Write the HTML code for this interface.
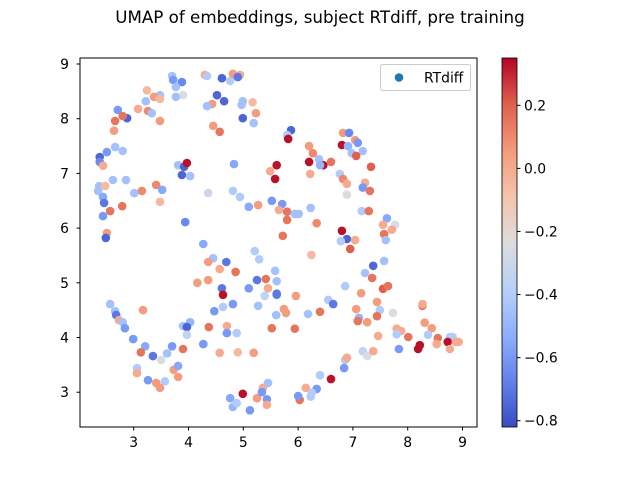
<!DOCTYPE html>
<html><head><meta charset="utf-8"><style>
body{margin:0;background:#fff;}
svg{display:block;font-family:"DejaVu Sans","Liberation Sans",sans-serif;}
</style></head><body>
<svg id="chart" width="640" height="480" viewBox="0 0 640 480" xmlns="http://www.w3.org/2000/svg">
<defs><linearGradient id="cbgrad" x1="0" y1="1" x2="0" y2="0"></linearGradient></defs>
<text x="320" y="23" text-anchor="middle" font-size="16.7">UMAP of embeddings, subject RTdiff, pre training</text>
<g id="points"></g>
<rect x="80" y="58" width="397" height="369" fill="none" stroke="#000" stroke-width="1"/>
<g id="xticks"></g>
<g id="yticks"></g>
<g>
<rect x="380.5" y="64.5" width="90" height="26" rx="2" fill="#fff" stroke="#ccc"/>
<circle cx="399" cy="77.5" r="4.3" fill="#1f77b4"/>
<text x="424" y="82.5" font-size="13.9">RTdiff</text>
</g>
<rect id="cbar" x="502" y="58" width="15" height="369" fill="url(#cbgrad)" stroke="#000" stroke-width="0.8"/>
<g id="cticks"></g>
</svg>
<script>
const xs=[3.70,3.72,3.88,3.77,3.90,3.77,4.30,4.34,4.61,4.76,4.81,4.94,4.90,4.52,4.43,4.34,4.65,4.99,4.97,5.17,5.23,4.99,5.19,3.24,3.48,3.37,3.48,3.22,3.08,3.26,3.33,3.48,2.71,2.88,2.80,2.66,2.64,4.45,4.57,2.66,2.80,2.51,2.38,2.38,2.44,3.81,3.92,3.97,3.88,4.03,4.83,2.62,2.86,2.37,2.48,2.35,2.44,2.46,2.57,2.44,2.79,3.01,3.15,3.41,3.52,3.48,4.36,4.81,4.94,5.10,5.27,5.52,5.61,5.58,5.49,3.94,2.51,2.49,
5.87,5.80,5.82,6.82,6.93,7.04,7.09,6.80,6.91,6.98,7.18,7.06,6.20,6.27,6.38,6.20,6.46,6.40,6.60,6.22,7.33,6.76,6.82,6.89,6.89,7.22,7.18,7.31,5.71,5.65,5.80,5.94,6.01,5.80,6.23,6.34,7.16,7.29,7.62,7.77,7.55,7.71,7.57,7.60,5.72,6.80,6.89,6.78,7.04,
4.27,4.45,4.36,4.69,4.57,4.86,4.16,4.36,4.61,4.63,4.81,4.63,4.47,5.21,5.29,5.58,5.25,5.41,5.10,5.45,5.39,5.61,5.27,5.60,5.52,2.57,2.66,2.68,2.73,2.80,2.84,3.17,2.99,3.21,3.13,3.35,3.50,3.61,3.70,3.90,4.03,3.97,3.97,3.90,4.27,4.37,4.70,4.70,4.88,4.57,4.90,5.19,3.06,3.06,3.26,3.41,3.48,3.57,3.73,3.81,3.81,4.76,4.81,4.88,4.99,5.12,5.25,5.36,5.45,5.43,5.43,5.34,
6.95,6.24,7.57,7.37,7.22,7.35,7.55,7.64,5.61,5.61,5.96,6.86,7.15,6.55,6.64,7.44,7.06,7.49,7.73,5.74,5.78,6.18,6.40,7.11,7.09,7.26,7.44,5.94,7.46,7.18,7.26,7.37,6.86,6.89,6.84,6.60,6.40,6.34,6.14,6.25,6.23,6.03,6.00,7.80,7.88,7.80,8.01,7.84,8.27,8.27,8.31,8.44,8.37,8.55,8.53,8.22,8.19,8.77,8.82,8.73,8.88,8.93,8.77];
const ys=[8.78,8.71,8.67,8.58,8.43,8.40,8.80,8.78,8.74,8.69,8.82,8.80,8.76,8.43,8.27,8.23,8.32,8.32,8.25,8.30,8.10,8.01,7.92,8.52,8.43,8.40,8.36,8.32,8.18,8.14,8.10,7.96,8.16,8.01,8.05,7.96,7.78,7.87,7.76,7.48,7.41,7.39,7.30,7.21,7.14,7.15,7.12,7.19,6.97,6.95,7.17,6.88,6.88,6.77,6.77,6.68,6.57,6.46,6.31,6.22,6.40,6.64,6.68,6.79,6.70,6.48,6.64,6.68,6.57,6.39,6.42,6.50,7.15,6.90,7.04,6.11,5.91,5.82,
7.79,7.70,7.63,7.74,7.74,7.61,7.56,7.52,7.50,7.37,7.41,7.32,7.50,7.37,7.26,7.21,7.15,7.15,7.21,6.99,7.12,6.99,6.90,6.81,6.61,6.83,6.74,6.68,6.44,6.33,6.30,6.26,6.26,6.15,6.37,6.09,6.31,6.31,6.18,6.06,6.06,5.97,5.89,5.78,5.86,5.95,5.80,5.76,5.78,
5.71,5.45,5.38,5.38,5.25,5.20,5.00,5.05,4.90,4.78,4.61,4.56,4.48,5.58,5.43,5.22,5.05,5.07,4.90,4.90,4.76,4.78,4.58,4.41,4.17,4.61,4.48,4.41,4.32,4.28,4.17,4.50,3.97,3.84,3.73,3.66,3.59,3.71,3.84,4.21,4.28,4.19,4.05,3.79,3.88,4.19,4.21,4.08,4.08,3.72,3.73,3.72,3.44,3.35,3.22,3.17,3.08,3.20,3.41,3.28,3.48,2.89,2.73,2.80,2.97,2.67,2.89,3.08,3.17,2.87,2.77,3.00,
5.62,5.51,5.40,5.31,5.18,5.09,4.89,4.94,5.03,4.80,4.76,4.94,4.81,4.69,4.61,4.65,4.52,4.50,4.45,4.52,4.45,4.43,4.47,4.36,4.30,4.28,4.39,4.16,4.03,3.75,3.66,3.75,3.59,3.63,3.44,3.24,3.31,3.06,3.08,2.99,2.92,2.86,2.93,4.16,4.12,4.06,4.01,3.79,4.58,4.61,4.27,4.17,4.05,3.99,3.88,3.86,3.79,4.01,4.01,3.92,3.92,3.92,3.79];
const vals=[-0.45,-0.6,-0.65,-0.45,-0.25,-0.45,0.0,-0.4,-0.75,-0.4,0.05,0.0,-0.7,-0.75,0.05,-0.45,-0.75,-0.45,-0.45,-0.05,0.05,-0.75,-0.45,-0.05,-0.45,0.05,-0.05,-0.45,0.0,0.1,-0.45,0.05,-0.6,-0.75,0.15,0.15,0.05,0.05,0.15,-0.45,-0.45,-0.6,-0.75,-0.65,0.0,-0.45,-0.75,0.33,-0.75,-0.45,-0.55,-0.45,-0.45,-0.45,-0.05,-0.45,-0.55,-0.7,0.15,-0.6,0.15,-0.45,0.1,0.1,-0.55,-0.05,-0.3,-0.4,-0.4,-0.55,0.05,-0.6,0.33,0.33,0.0,-0.65,0.05,-0.75,
-0.75,-0.4,0.33,0.05,-0.65,0.05,-0.6,0.33,-0.5,-0.45,-0.45,0.2,0.05,0.1,-0.45,0.33,0.33,-0.5,0.15,0.0,0.2,-0.4,0.1,0.0,-0.25,0.0,-0.6,0.15,-0.6,0.0,0.15,-0.45,-0.45,0.15,-0.45,0.1,-0.4,0.15,-0.55,-0.25,0.0,0.0,0.15,-0.45,0.15,0.33,-0.75,-0.4,0.0,
-0.55,-0.45,0.05,-0.7,0.0,0.15,0.05,0.05,-0.7,0.33,-0.6,-0.4,-0.6,-0.4,-0.4,-0.45,-0.7,0.15,-0.6,0.0,-0.35,-0.65,-0.45,-0.45,0.15,-0.45,-0.45,-0.7,0.0,-0.45,-0.6,0.05,-0.6,-0.55,0.15,-0.7,-0.25,-0.45,-0.6,-0.45,-0.5,-0.75,-0.35,0.15,-0.6,0.15,0.0,-0.6,-0.4,0.0,-0.05,0.05,-0.4,0.0,-0.6,0.05,0.05,-0.4,0.05,0.05,-0.55,-0.55,-0.5,-0.4,0.33,-0.6,0.05,0.0,-0.45,-0.6,0.0,-0.6,
0.2,-0.05,-0.45,-0.75,-0.45,0.15,0.2,0.15,-0.45,-0.7,0.05,-0.4,0.05,-0.4,-0.7,0.05,0.05,-0.4,-0.25,0.05,0.05,-0.45,0.15,-0.5,0.15,0.05,0.15,0.15,0.0,-0.35,-0.25,0.0,-0.4,0.0,-0.6,0.33,-0.4,-0.6,0.0,-0.4,-0.4,0.15,-0.6,0.0,0.0,-0.4,0.15,-0.6,0.15,0.0,0.05,0.05,-0.4,0.15,0.0,0.33,0.33,-0.4,-0.4,0.33,0.0,0.0,0.0];
const xTicks=[3,4,5,6,7,8,9];
const yTicks=[3,4,5,6,7,8,9];
const cTicks=[0.2,0.0,-0.2,-0.4,-0.6,-0.8];
const VMIN=-0.82,VMAX=0.35;
const NS="http://www.w3.org/2000/svg";
function sx(v){return 80+(v-2.02)*54.8;}
function sy(v){return 64+(9-v)*54.7;}
function sc(v){return 427-(v-VMIN)/(VMAX-VMIN)*369;}
const stops=[[58,76,192],[98,130,234],[141,176,254],[184,208,249],[221,221,221],[245,196,173],[244,154,123],[222,96,76],[180,4,38]];
function cmap(v){let t=Math.max(0,Math.min(1,(v-VMIN)/(VMAX-VMIN)))*8;let i=Math.min(7,Math.floor(t)),f=t-i;const a=stops[i],b=stops[i+1];return 'rgb('+a.map((c,k)=>Math.round(c+(b[k]-c)*f)).join(',')+')';}
function mk(tag,attrs,parent){const e=document.createElementNS(NS,tag);for(const k in attrs)e.setAttribute(k,attrs[k]);parent.appendChild(e);return e;}
const gp=document.getElementById('points');
for(let i=0;i<xs.length;i++){
 const c=mk('circle',{cx:sx(xs[i]).toFixed(1),cy:sy(ys[i]).toFixed(1),r:4.3,fill:cmap(vals[i])},gp);
 
 
}
const gx=document.getElementById('xticks');
xTicks.forEach(t=>{const x=sx(t);
 const l=mk('line',{x1:x,x2:x,y1:427,y2:430.5,stroke:'#000'},gx);
 
 
 const tx=mk('text',{x:x,y:447,'text-anchor':'middle','font-size':'13.9'},gx);tx.textContent=t;
 
 
});
const gy=document.getElementById('yticks');
yTicks.forEach(t=>{const y=sy(t);
 const l=mk('line',{x1:76.5,x2:80,y1:y,y2:y,stroke:'#000'},gy);
 
 
 const tx=mk('text',{x:69,y:y+5,'text-anchor':'end','font-size':'13.9'},gy);tx.textContent=t;
 
 
});
const grad=document.getElementById('cbgrad');
stops.forEach((s,i)=>{mk('stop',{offset:(i/8*100)+'%','stop-color':'rgb('+s.join(',')+')'},grad);});
const gc=document.getElementById('cticks');
cTicks.forEach(t=>{const y=sc(t);
 const l=mk('line',{x1:517,x2:520.5,y1:y,y2:y,stroke:'#000'},gc);
 
 
 const tx=mk('text',{x:524,y:y+5,'font-size':'13.9'},gc);tx.textContent=(t<0?'\u2212':'')+Math.abs(t).toFixed(1);
 
 
});
</script>
</body></html>
